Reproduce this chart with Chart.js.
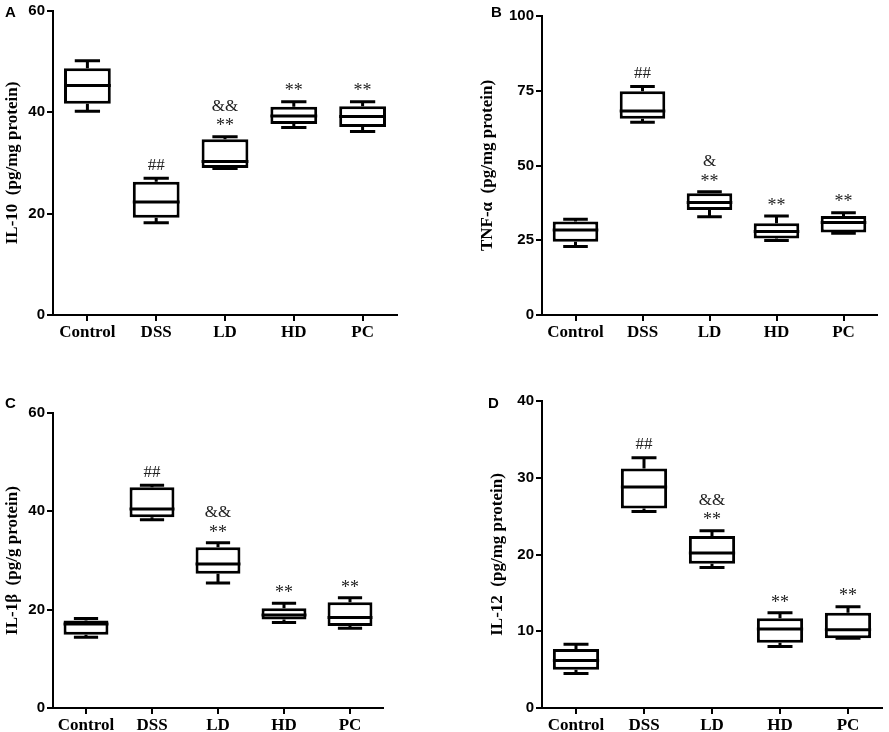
<!DOCTYPE html>
<html>
<head>
<meta charset="utf-8">
<script src="https://cdn.jsdelivr.net/npm/chart.js@4.4.1/dist/chart.umd.min.js"></script>
<style>
  body { margin: 0; background: #fff; }
  #wrap { position: relative; width: 889px; height: 732px; }
  .panel { position: absolute; }
  .letter { position: absolute; font: bold 15px "Liberation Sans", Arial, sans-serif; color: #000; }
</style>
</head>
<body>
<div id="wrap">
  <div class="panel" style="left:0;top:0;width:445px;height:345px"><canvas id="cA"></canvas></div>
  <div class="panel" style="left:475px;top:0;width:414px;height:345px"><canvas id="cB"></canvas></div>
  <div class="panel" style="left:0;top:390px;width:445px;height:342px"><canvas id="cC"></canvas></div>
  <div class="panel" style="left:485px;top:390px;width:404px;height:342px"><canvas id="cD"></canvas></div>
  <div class="letter" style="left:5px;top:3px">A</div>
  <div class="letter" style="left:491px;top:3px">B</div>
  <div class="letter" style="left:5px;top:394px">C</div>
  <div class="letter" style="left:488px;top:394px">D</div>
</div>
<script>
// groups on the x axis
const groups = ["Control", "DSS", "LD", "HD", "PC"];

// each row: min, q1, median, q3, max
const il10Stats = [
  [40.2, 41.7, 45.3, 48.7, 50.2],
  [18.2, 19.2, 22.3, 26.3, 27.0],
  [28.9, 29.0, 30.3, 34.7, 35.2],
  [37.0, 37.7, 39.3, 41.1, 42.1],
  [36.2, 37.1, 39.2, 41.2, 42.1]
];
const tnfStats = [
  [22.9, 24.5, 28.4, 31.3, 32.0],
  [64.5, 65.6, 68.2, 74.8, 76.4],
  [32.9, 35.1, 37.6, 40.7, 41.2],
  [24.9, 25.6, 27.9, 30.7, 33.1],
  [27.3, 27.6, 30.9, 33.1, 34.2]
];
const il1bStats = [
  [14.4, 14.9, 17.1, 17.8, 18.2],
  [38.3, 38.8, 40.5, 44.9, 45.3],
  [25.4, 27.3, 29.3, 32.7, 33.6],
  [17.4, 18.0, 18.9, 20.3, 21.3],
  [16.2, 16.7, 18.4, 21.5, 22.4]
];
const il12Stats = [
  [4.5, 5.0, 6.2, 7.7, 8.3],
  [25.6, 26.0, 28.8, 31.2, 32.6],
  [18.3, 18.8, 20.2, 22.4, 23.1],
  [8.0, 8.5, 10.3, 11.7, 12.4],
  [9.1, 9.1, 10.2, 12.4, 13.2]
];

// significance marks above each box (top line first)
const il10Marks = [[], ["##"], ["&&", "**"], ["**"], ["**"]];
const tnfMarks = [[], ["##"], ["&", "**"], ["**"], ["**"]];
const il1bMarks = [[], ["##"], ["&&", "**"], ["**"], ["**"]];
const il12Marks = [[], ["##"], ["&&", "**"], ["**"], ["**"]];

const serif = "'Liberation Serif', 'Times New Roman', serif";
const sans = "'Liberation Sans', Arial, sans-serif";

function boxPlugin(stats, marks) {
  return {
    id: "boxWhiskers",
    afterDatasetsDraw(chart) {
      const ctx = chart.ctx;
      const y = chart.scales.y;
      const meta = chart.getDatasetMeta(0);
      ctx.save();
      ctx.strokeStyle = "#000";
      ctx.lineWidth = 3;
      meta.data.forEach((bar, i) => {
        const [mn, q1, md, q3, mx] = stats[i];
        const x = bar.x, half = bar.width / 2, cap = bar.width * 0.27;
        const pMin = y.getPixelForValue(mn), pQ1 = y.getPixelForValue(q1);
        const pMed = y.getPixelForValue(md), pQ3 = y.getPixelForValue(q3);
        const pMax = y.getPixelForValue(mx);
        ctx.beginPath();
        ctx.moveTo(x, pQ3); ctx.lineTo(x, pMax);
        ctx.moveTo(x - cap, pMax); ctx.lineTo(x + cap, pMax);
        ctx.moveTo(x, pQ1); ctx.lineTo(x, pMin);
        ctx.moveTo(x - cap, pMin); ctx.lineTo(x + cap, pMin);
        ctx.moveTo(x - half, pMed); ctx.lineTo(x + half, pMed);
        ctx.stroke();
        ctx.fillStyle = "#222";
        ctx.textAlign = "center";
        ctx.textBaseline = "middle";
        const lines = marks[i].slice().reverse();
        lines.forEach((t, k) => {
          const star = t.indexOf("*") >= 0;
          ctx.font = (star ? "18px " : "17px ") + serif;
          ctx.fillText(t, x, pMax - 13 - k * 17 + (star ? 3 : 0));
        });
      });
      ctx.restore();
    }
  };
}

function makeChart(id, stats, marks, yMax, yStep, yTitle, yWidth, pad, xHeight) {
  new Chart(document.getElementById(id), {
    type: "bar",
    data: {
      labels: groups,
      datasets: [{
        data: stats.map(s => [s[1], s[3]]),
        backgroundColor: "#fff",
        borderColor: "#000",
        borderWidth: 3,
        borderSkipped: false,
        barPercentage: 0.68,
        categoryPercentage: 1
      }]
    },
    options: {
      responsive: true,
      maintainAspectRatio: false,
      animation: false,
      layout: { padding: pad },
      plugins: {
        legend: { display: false },
        tooltip: { enabled: false }
      },
      scales: {
        x: {
          grid: { offset: false, drawOnChartArea: false, color: "#000", lineWidth: 2, tickLength: 6 },
          border: { color: "#000", width: 2 },
          ticks: {
            color: "#000", padding: 1, maxRotation: 0,
            font: { family: serif, size: 17, weight: "bold" }
          },
          afterFit: s => { s.height = xHeight; }
        },
        y: {
          min: 0,
          max: yMax,
          grid: { drawOnChartArea: false, color: "#000", lineWidth: 2, tickLength: 6 },
          border: { color: "#000", width: 2 },
          ticks: {
            stepSize: yStep, color: "#000", padding: 2,
            font: { family: sans, size: 15, weight: "bold" }
          },
          title: {
            display: true, text: yTitle, color: "#000", padding: { top: 2, bottom: 0 },
            font: { family: serif, size: 17, weight: "bold" }
          },
          afterFit: s => { s.width = yWidth; }
        }
      }
    },
    plugins: [boxPlugin(stats, marks)]
  });
}

makeChart("cA", il10Stats, il10Marks, 60, 20, "IL-10  (pg/mg protein)", 53,
  { top: 8, right: 48, left: 0, bottom: 0 }, 30);
makeChart("cB", tnfStats, tnfMarks, 100, 25, "TNF-α  (pg/mg protein)", 67,
  { top: 16, right: 12, left: 0, bottom: 0 }, 30);
makeChart("cC", il1bStats, il1bMarks, 60, 20, "IL-1β  (pg/g protein)", 53,
  { top: 23, right: 62, left: 0, bottom: 0 }, 24);
makeChart("cD", il12Stats, il12Marks, 40, 10, "IL-12  (pg/mg protein)", 57,
  { top: 9, right: 7, left: 0, bottom: 0 }, 24);
</script>
</body>
</html>
